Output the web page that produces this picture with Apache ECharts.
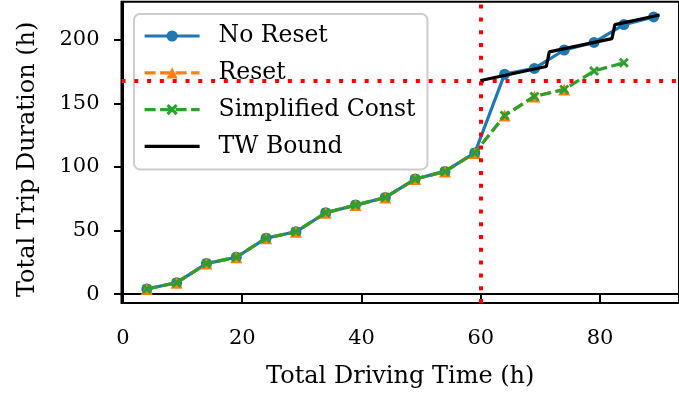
<!DOCTYPE html>
<html>
<head>
<meta charset="utf-8">
<script src="https://cdn.jsdelivr.net/npm/echarts@6/dist/echarts.min.js"></script>
<style>
  html, body { margin: 0; padding: 0; background: #fff; }
  #chart { width: 679px; height: 394px; }
</style>
</head>
<body>
<div id="chart"></div>
<script>
// data
const driveTime = [4, 9, 14, 19, 24, 29, 34, 39, 44, 49, 54, 59, 64, 69, 74, 79, 84, 89];
const noReset = [4, 9, 24, 29, 44, 49, 64, 70, 76, 90.5, 96.5, 111, 173, 177.5, 192, 198, 212, 218];
const reset = [4, 9, 24, 29, 44, 49, 64, 70, 76, 90.5, 96.5, 111, 140.5, 155.5, 161];
const simplified = [4, 9, 24, 29, 44, 49, 64, 70, 76, 90.5, 96.5, 111, 140.5, 155.5, 161, 175.5, 182];
const twTime = [60, 71, 71.5, 82, 82.5, 90];
const twBound = [168, 179, 190.5, 201, 212, 219.5];
const limitTime = 60;
const limitDuration = 168;
const xTicks = [0, 20, 40, 60, 80];
const yTicks = [0, 50, 100, 150, 200];

const pairs = (xs, ys) => ys.map((y, i) => [xs[i], y]);

const FONT = 'DejaVu Serif';
const crossPath = 'path://M2,0 L5,3 L8,0 L10,2 L7,5 L10,8 L8,10 L5,7 L2,10 L0,8 L3,5 L0,2 Z';
// plain line for the legend entry of the bound
const barIcon = 'path://M0,0 H55 V3.2 H0 Z';

const chart = echarts.init(document.getElementById('chart'), null, { renderer: 'canvas' });

const option = {
  animation: false,
  backgroundColor: '#fff',
  grid: {
    left: 121.5,
    right: -3.5,
    top: 1.7,
    bottom: 88,
    show: true,
    borderColor: '#000',
    borderWidth: 2,
    backgroundColor: 'transparent',
  },
  legend: {
    orient: 'vertical',
    left: 134,
    top: 14,
    data: ['No Reset', 'Reset', 'Simplified Const', { name: 'TW Bound', icon: barIcon }],
    itemWidth: 55,
    itemHeight: 14,
    itemGap: 12.8,
    padding: [10, 12, 11, 9],
    backgroundColor: 'rgba(255,255,255,0.85)',
    borderColor: '#cccccc',
    borderWidth: 2,
    borderRadius: 6,
    lineStyle: { width: 3.2 },
    textStyle: {
      fontFamily: FONT,
      fontSize: 23.5,
      color: '#000',
      padding: [0, 0, 0, 14],
    },
  },
  xAxis: {
    type: 'value',
    min: -0.25,
    max: 93.25,
    name: 'Total Driving Time (h)',
    nameLocation: 'middle',
    nameGap: 62,
    nameTextStyle: { fontFamily: FONT, fontSize: 24, color: '#000' },
    axisLine: { show: true, lineStyle: { color: '#000', width: 2 } },
    axisTick: { show: true, length: 9, lineStyle: { color: '#000', width: 2 }, customValues: xTicks },
    axisLabel: { fontFamily: FONT, fontSize: 21, color: '#000', margin: 25, customValues: xTicks },
    splitLine: { show: false },
  },
  yAxis: {
    type: 'value',
    min: -7,
    max: 230,
    name: 'Total Trip Duration (h)',
    nameLocation: 'middle',
    nameGap: 82,
    nameTextStyle: { fontFamily: FONT, fontSize: 24, color: '#000', padding: [0, 14, 0, 0] },
    axisLine: { show: true, lineStyle: { color: '#000', width: 2 } },
    axisTick: { show: true, length: 9, lineStyle: { color: '#000', width: 2 }, customValues: yTicks },
    axisLabel: { fontFamily: FONT, fontSize: 21, color: '#000', margin: 22, customValues: yTicks },
    splitLine: { show: false },
  },
  series: [
    {
      name: 'No Reset',
      type: 'line',
      data: pairs(driveTime, noReset),
      symbol: 'circle',
      symbolSize: 11,
      color: '#1f77b4',
      lineStyle: { width: 3.2 },
      z: 2,
    },
    {
      name: 'Reset',
      type: 'line',
      data: pairs(driveTime, reset),
      symbol: 'triangle',
      symbolSize: 12,
      color: '#ff7f0e',
      lineStyle: { width: 3.2, type: [11, 4.5] },
      z: 3,
    },
    {
      name: 'Simplified Const',
      type: 'line',
      data: pairs(driveTime, simplified),
      symbol: crossPath,
      symbolSize: 10,
      color: '#2ca02c',
      lineStyle: { width: 3.2, type: [11, 4.5] },
      z: 4,
    },
    {
      name: 'TW Bound',
      type: 'line',
      data: pairs(twTime, twBound),
      symbol: 'none',
      color: '#000',
      lineStyle: { width: 3.2 },
      z: 5,
    },
    {
      // limit lines
      type: 'line',
      data: [],
      z: 6,
      markLine: {
        silent: true,
        symbol: 'none',
        label: { show: false },
        lineStyle: { color: '#ff0000', width: 4, type: [4, 8.8], opacity: 1 },
        data: [{ xAxis: limitTime }, { yAxis: limitDuration }],
      },
    },
  ],
};

chart.setOption(option);
</script>
</body>
</html>
